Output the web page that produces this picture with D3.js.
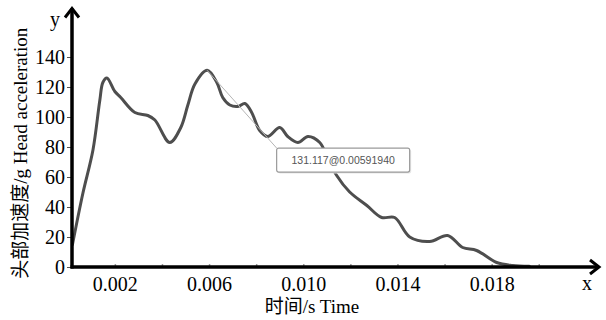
<!DOCTYPE html>
<html>
<head>
<meta charset="utf-8">
<script src="https://cdn.jsdelivr.net/npm/d3@7"></script>
<style>
	body { margin: 0; background: #fff; }
	svg { display: block; }
	.serif { font-family: "Liberation Serif", "Times New Roman", "Noto Sans CJK SC", serif; }
</style>
</head>
<body>
<div id="chart"></div>
<script>
// 時間 (s) 與頭部加速度 (g)
const times = [0.0002, 0.00064, 0.00107, 0.00136, 0.00149, 0.00166, 0.0020, 0.00225, 0.00285, 0.0034,
	0.0037, 0.00433, 0.0048, 0.0051, 0.0054, 0.005919, 0.00633, 0.00658, 0.00688, 0.00722,
	0.00752, 0.00781, 0.00815, 0.00849, 0.0090, 0.00934, 0.00977, 0.0102, 0.0107, 0.0110,
	0.01142, 0.01197, 0.0127, 0.01333, 0.01388, 0.01452, 0.01537, 0.01613, 0.01677, 0.01736,
	0.01821, 0.01889, 0.0196];
const accel = [15, 49, 78, 111, 123, 126, 117, 113, 103, 101,
	98, 83, 93, 108, 122, 131.1, 123, 113, 108, 107,
	109, 103, 91, 87, 93, 87, 83, 87, 83, 74,
	61, 50, 41, 33, 33, 20, 17, 21, 13, 11,
	3, 1, 0.5];

const yTicks = [0, 20, 40, 60, 80, 100, 120, 140];
const xTicks = [0.002, 0.004, 0.006, 0.008, 0.010, 0.012, 0.014, 0.016, 0.018, 0.020];
const xLabels = ['0.002', '0.006', '0.010', '0.014', '0.018'];

// 提示框: 峰值點與框的左上角 (資料座標)
const tipPoint = { t: 0.005919, v: 131.117 };
const tipText = '131.117@0.00591940';
const tipCorner = { t: 0.00887, v: 79.3 };

const width = 606, height = 320;
const svg = d3.select('#chart').append('svg')
	.attr('width', width).attr('height', height);

const x = d3.scaleLinear().domain([0.00018, 0.0226]).range([72, 600]);
const y = d3.scaleLinear().domain([0, 140]).range([267, 57]);

// 曲線
const line = d3.line()
	.x((d, i) => x(times[i]))
	.y(d => y(d))
	.curve(d3.curveCatmullRom.alpha(0.5));

svg.append('path')
	.datum(accel)
	.attr('fill', 'none')
	.attr('stroke', '#4e4e4e')
	.attr('stroke-width', 3)
	.attr('stroke-linejoin', 'round')
	.attr('stroke-linecap', 'round')
	.attr('d', line);

// 提示線與提示框
const bx = x(tipCorner.t), by = y(tipCorner.v);
svg.append('line')
	.attr('x1', x(tipPoint.t)).attr('y1', y(tipPoint.v))
	.attr('x2', bx).attr('y2', by)
	.attr('stroke', '#b5b5b5').attr('stroke-width', 1);

const tip = svg.append('g').attr('transform', `translate(${bx}, ${by})`);
tip.append('rect')
	.attr('x', 1.5).attr('y', 1.5).attr('width', 133).attr('height', 24).attr('rx', 2)
	.attr('fill', '#e6e6e6');
tip.append('rect')
	.attr('width', 133).attr('height', 24).attr('rx', 2)
	.attr('fill', '#fff').attr('stroke', '#9a9a9a').attr('stroke-width', 1.2);
tip.append('text')
	.attr('x', 66.5).attr('y', 16)
	.attr('text-anchor', 'middle')
	.attr('font-family', 'Liberation Sans, Arial, sans-serif')
	.attr('font-size', 10.5)
	.attr('fill', '#555')
	.text(tipText);

// X 軸刻度
const xAxis = svg.append('g')
	.attr('transform', `translate(0, ${y(0)})`)
	.call(d3.axisBottom(x).tickValues(xTicks).tickSize(-3).tickFormat(d => {
		const s = d3.format('.3f')(d);
		return xLabels.includes(s) ? s : '';
	}));
xAxis.select('.domain').remove();
xAxis.selectAll('.tick line').attr('stroke', '#999').attr('stroke-width', 1.5);
xAxis.selectAll('.tick text')
	.attr('class', 'serif')
	.attr('font-size', 20).attr('fill', '#000').attr('dy', '1.05em');

// Y 軸刻度
const yAxis = svg.append('g')
	.attr('transform', `translate(${x.range()[0]}, 0)`)
	.call(d3.axisLeft(y).tickValues(yTicks).tickSize(5).tickPadding(2));
yAxis.select('.domain').remove();
yAxis.selectAll('.tick line').attr('stroke', '#555').attr('stroke-width', 1);
yAxis.selectAll('.tick text')
	.attr('class', 'serif')
	.attr('font-size', 20).attr('fill', '#000');

// 軸線與箭頭
const x0 = x.range()[0], y0 = y(0);
const yTop = y(173), xEnd = x.range()[1];
svg.append('line')
	.attr('x1', x0).attr('y1', y0 + 1.5).attr('x2', x0).attr('y2', yTop + 1)
	.attr('stroke', '#000').attr('stroke-width', 3.5);
svg.append('line')
	.attr('x1', x0 - 1.5).attr('y1', y0).attr('x2', xEnd - 1).attr('y2', y0)
	.attr('stroke', '#000').attr('stroke-width', 3.5);
svg.append('path')
	.attr('d', `M${x0 - 7},${yTop + 10}L${x0},${yTop + 1}L${x0 + 7},${yTop + 10}`)
	.attr('fill', 'none').attr('stroke', '#000').attr('stroke-width', 3)
	.attr('stroke-linejoin', 'miter');
svg.append('path')
	.attr('d', `M${xEnd - 10},${y0 - 7}L${xEnd - 1},${y0}L${xEnd - 10},${y0 + 7}`)
	.attr('fill', 'none').attr('stroke', '#000').attr('stroke-width', 3)
	.attr('stroke-linejoin', 'miter');

// 軸名稱
svg.append('text').attr('class', 'serif')
	.attr('x', x0 - 17).attr('y', yTop + 18)
	.attr('text-anchor', 'middle').attr('font-size', 20)
	.text('y');
svg.append('text').attr('class', 'serif')
	.attr('x', xEnd - 13).attr('y', y0 + 23)
	.attr('text-anchor', 'middle').attr('font-size', 20)
	.text('x');

svg.append('text').attr('class', 'serif')
	.attr('transform', `translate(27, ${(y0 + yTop) / 2 + 16}) rotate(-90)`)
	.attr('text-anchor', 'middle').attr('font-size', 19)
	.text('头部加速度/g Head acceleration');

svg.append('text').attr('class', 'serif')
	.attr('x', 312).attr('y', 313)
	.attr('text-anchor', 'middle').attr('font-size', 19)
	.text('时间/s Time');
</script>
</body>
</html>
